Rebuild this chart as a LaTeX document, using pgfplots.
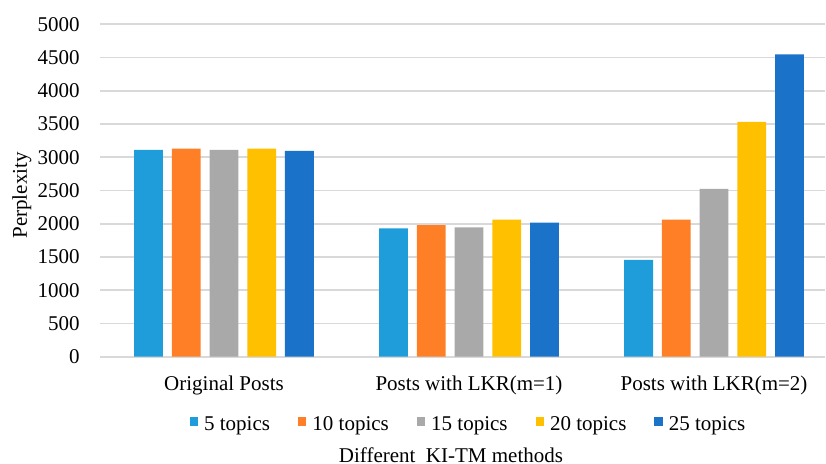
\documentclass[border=0pt]{standalone}
\usepackage{fontspec}
\setmainfont{Liberation Serif}
\usepackage{pgfplots}
\pgfplotsset{compat=1.18}

\definecolor{cA}{HTML}{1E9DDA}
\definecolor{cB}{HTML}{FF7F27}
\definecolor{cC}{HTML}{A9A9A9}
\definecolor{cD}{HTML}{FFC000}
\definecolor{cE}{HTML}{1A73C9}
\definecolor{gridc}{HTML}{D9D9D9}

\begin{document}
\fontsize{10.5bp}{12.6bp}\selectfont
\begin{tikzpicture}
\useasboundingbox (-50bp,-53.65bp) rectangle (363bp,178.35bp);
\begin{axis}[
  scale only axis,
  width=362.5bp, height=166.2bp,
  ymin=0, ymax=5000,
  xmin=-0.506, xmax=2.453,
  ytick={0,500,...,5000},
  xtick={0,1,2},
  xticklabels={Original Posts, Posts with LKR(m=1), Posts with LKR(m=2)},
  major tick length=0pt,
  axis line style={draw=none},
  ymajorgrids,
  grid style={draw=gridc, line width=0.9bp},
  /pgf/number format/assume math mode=true,
  /pgf/number format/1000 sep={},
  yticklabel style={anchor=east, inner sep=0pt, xshift=-10bp},
  xticklabel style={anchor=base, yshift=-16.7bp},
  ylabel={Perplexity},
  ylabel style={at={(axis description cs:-0.1007,0.485)}, anchor=base, rotate=0},
  xlabel={Different\ \ KI-TM methods},
  xlabel style={at={(axis description cs:0.5,0)}, anchor=base, yshift=-52.7bp, xshift=-5.75bp},
  ybar,
  bar width=0.118,
  legend image code/.code={\fill[#1] (0bp,-0.2bp) rectangle (4.2bp,4bp);},
  legend columns=-1,
  legend style={draw=none, fill=none, at={(axis description cs:0.5,0)}, anchor=center,
    yshift=-34.3bp, xshift=4bp,
    nodes={inner xsep=3bp},
    /tikz/every even column/.append style={column sep=11bp}},
]
\addplot[fill=cA, draw=none, bar shift=-0.308] coordinates {(0,3110) (1,1931) (2,1455)};
\addplot[fill=cB, draw=none, bar shift=-0.154] coordinates {(0,3130) (1,1981) (2,2061)};
\addplot[fill=cC, draw=none, bar shift=0] coordinates {(0,3110) (1,1946) (2,2523)};
\addplot[fill=cD, draw=none, bar shift=0.154] coordinates {(0,3130) (1,2061) (2,3531)};
\addplot[fill=cE, draw=none, bar shift=0.308] coordinates {(0,3095) (1,2016) (2,4549)};
\legend{5 topics, 10 topics, 15 topics, 20 topics, 25 topics}
\end{axis}
\end{tikzpicture}
\end{document}
